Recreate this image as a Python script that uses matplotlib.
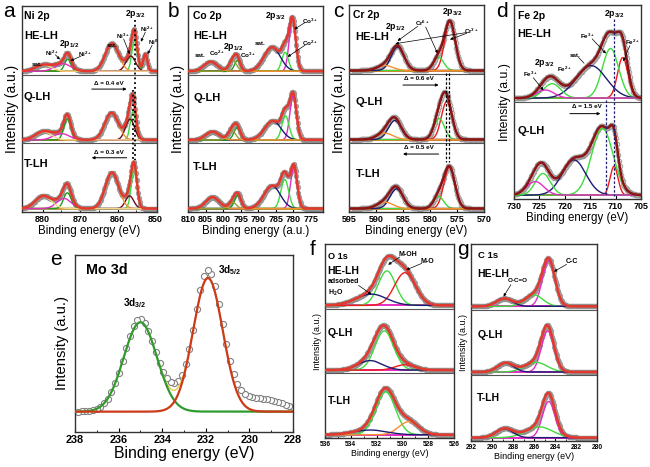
import numpy as np
import matplotlib
matplotlib.use("Agg")
import matplotlib.pyplot as plt

plt.rcParams['font.family'] = ['Liberation Sans', 'DejaVu Sans']
plt.rcParams['font.weight'] = 'bold'
plt.rcParams['mathtext.fontset'] = 'custom'
plt.rcParams['mathtext.rm'] = 'Liberation Sans:bold'
plt.rcParams['mathtext.bf'] = 'Liberation Sans:bold'
plt.rcParams['mathtext.it'] = 'Liberation Sans:bold'
plt.rcParams['mathtext.default'] = 'bf'

# ------------------------------------------------------------------ data
rows3 = ["HE-LH", "Q-LH", "T-LH"]
rows2 = ["HE-LH", "Q-LH"]

# Ni 2p: Ni0, Ni2+ 2p3/2, Ni3+ 2p3/2, sat, Ni2+ 2p1/2, Ni3+ 2p1/2, sat
ni_center = [[852.6, 855.5, 856.5, 861.5, 873.3, 874.6, 879.8],
             [852.6, 855.9, 856.7, 861.6, 873.4, 875.0, 879.8],
             [852.6, 855.6, 856.8, 861.5, 873.4, 874.3, 879.8]]
ni_height = [[0.27, 0.48, 0.24, 0.44, 0.19, 0.12, 0.10],
             [0.00, 0.45, 0.33, 0.43, 0.33, 0.10, 0.13],
             [0.00, 0.62, 0.20, 0.57, 0.25, 0.16, 0.20]]
ni_fwhm = [[1.3, 1.7, 3.0, 4.2, 2.0, 5.0, 5.0],
           [1.3, 1.7, 2.8, 4.2, 2.2, 5.0, 5.0],
           [1.3, 1.8, 2.6, 4.2, 2.4, 4.5, 5.0]]

# Co 2p: Co3+ 2p3/2, Co2+ 2p3/2, sat, Co3+ 2p1/2, Co2+ 2p1/2, sat
co_center = [[780.2, 782.3, 786.0, 795.9, 797.2, 803.5],
             [780.0, 782.2, 785.8, 796.0, 797.5, 803.0],
             [779.8, 782.4, 786.0, 795.8, 797.3, 803.0]]
co_height = [[0.82, 0.30, 0.38, 0.17, 0.17, 0.15],
             [0.70, 0.38, 0.30, 0.19, 0.15, 0.13],
             [0.66, 0.46, 0.36, 0.21, 0.10, 0.18]]
co_fwhm = [[2.2, 2.2, 5.5, 2.0, 2.5, 4.5],
           [2.2, 2.4, 5.5, 2.2, 2.5, 4.5],
           [2.2, 2.6, 5.5, 2.2, 2.5, 4.5]]

# Cr 2p: Cr3+ 2p3/2, Cr6+ 2p3/2, 2p1/2, sat
cr_center = [[576.3, 578.4, 586.0, 588.3],
             [576.9, 578.3, 586.5, 588.3],
             [576.4, 578.4, 586.2, 588.3]]
cr_height = [[0.77, 0.21, 0.37, 0.08],
             [0.60, 0.33, 0.30, 0.10],
             [0.65, 0.19, 0.31, 0.10]]
cr_fwhm = [[2.3, 2.2, 2.8, 3.5],
           [2.3, 2.3, 2.8, 3.5],
           [2.4, 2.2, 2.8, 3.5]]

# Fe 2p: Fe2+ 2p3/2, Fe3+ 2p3/2, sat, Fe2+ 2p1/2, Fe3+ 2p1/2
fe_center = [[708.6, 711.0, 714.8, 722.5, 723.8],
             [710.3, 712.6, 718.2, 724.3, 725.8]]
fe_height = [[0.45, 0.55, 0.36, 0.16, 0.09],
             [0.32, 0.74, 0.39, 0.24, 0.15]]
fe_fwhm = [[2.4, 3.8, 7.0, 4.0, 4.0],
           [1.8, 5.0, 5.5, 3.5, 4.0]]

# Mo 3d: 3d5/2, 3d3/2 (fit) and extra features seen in the measured points
mo_center = [231.9, 235.0]
mo_height = [0.755, 0.505]
mo_fwhm = [1.6, 1.8]
mo_background = 0.115
mo_extra_center = [229.6, 233.5, 231.9, 235.1]
mo_extra_height = [0.075, 0.04, 0.035, 0.02]
mo_extra_fwhm = [2.6, 0.9, 0.8, 0.8]

# O 1s: M-OH, M-O, adsorbed H2O
o_center = [[531.2, 529.8, 532.4],
            [531.4, 529.8, 532.5],
            [531.3, 529.5, 532.5]]
o_height = [[0.58, 0.55, 0.19],
            [0.66, 0.09, 0.16],
            [0.72, 0.22, 0.08]]
o_fwhm = [[1.6, 1.9, 2.8],
          [1.7, 1.8, 2.2],
          [1.8, 1.8, 3.0]]

# C 1s: C-C, C-O, O-C=O
c_center = [[284.6, 286.0, 288.8],
            [284.7, 285.8, 288.7],
            [284.6, 285.5, 288.8]]
c_height = [[0.75, 0.19, 0.13],
            [0.68, 0.16, 0.15],
            [0.60, 0.18, 0.15]]
c_fwhm = [[1.4, 2.0, 1.8],
          [1.4, 2.5, 1.8],
          [1.4, 3.0, 1.9]]

# ------------------------------------------------------------------ styles
W, H = 650, 467
fig = plt.figure(figsize=(6.5, 4.67), dpi=100)


def add_ax(l, t, r, b):
    return fig.add_axes([l / W, 1 - b / H, (r - l) / W, (b - t) / H])


def gauss(x, c, h, w):
    return h * np.exp(-4 * np.log(2) * ((x - c) / w) ** 2)


FILLED = dict(ms=3.4, mfc='#a9a9a9', mec='#8a8a8a', mew=0.4)
HOLLOW = dict(ms=3.4, mfc='#e4e4e4', mec='#8a8a8a', mew=0.5)


def stack(ax, xlim, centers, heights, widths, colors, env_color, pts,
          bg_color='#f2d88a', env_lw=1.8, step=0.2, base=0.05):
    n = len(centers)
    lo, hi = min(xlim), max(xlim)
    x = np.linspace(lo, hi, 800)
    xp = np.arange(lo, hi + 1e-9, step)
    for r in range(n):
        off = n - 1 - r
        b = off + base
        s = 0.97 - base
        tot = np.zeros_like(x)
        totp = np.zeros_like(xp)
        cols = colors[r] if isinstance(colors[0], list) else colors
        for c, h, w, col in zip(centers[r], heights[r], widths[r], cols):
            if h <= 0:
                continue
            tot += gauss(x, c, h, w)
            totp += gauss(xp, c, h, w)
        ax.plot(xp, b + s * totp, ls='none', marker='o', zorder=2, **pts)
        ax.plot([lo, hi], [b, b], color=bg_color, lw=1.4, zorder=2.5)
        for c, h, w, col in zip(centers[r], heights[r], widths[r], cols):
            if h <= 0:
                continue
            ax.plot(x, b + s * gauss(x, c, h, w), color=col, lw=1.0, zorder=3)
        ax.plot(x, b + s * tot, color=env_color, lw=env_lw, zorder=4)
    for k in range(1, n):
        ax.axhline(k, color='#555555', lw=0.8, zorder=5)
    ax.set_xlim(xlim)
    ax.set_ylim(0, n)
    ax.set_yticks([])


def style(ax, ticks, minor, fs, xlabel, xfs, yfs, ylpad=2):
    ax.set_xticks(ticks)
    ax.set_xticks(minor, minor=True)
    ax.tick_params(axis='x', which='major', direction='in', length=3,
                   width=0.8, labelsize=fs, pad=2)
    ax.tick_params(axis='x', which='minor', direction='in', length=1.8,
                   width=0.6)
    for sp in ax.spines.values():
        sp.set_color('#333333')
        sp.set_linewidth(1.0)
    ax.set_xlabel(xlabel, fontsize=xfs, labelpad=1)
    ax.set_ylabel('Intensity (a.u.)', fontsize=yfs, labelpad=ylpad)


def arrow(ax, xy, xytext, lw=0.5, head=True):
    ax.annotate('', xy=xy, xytext=xytext,
                arrowprops=dict(arrowstyle='-|>' if head else '-', lw=lw,
                                color='k', mutation_scale=4,
                                shrinkA=0, shrinkB=0), zorder=6)


def lab(ax, x, y, s, fs=4.5, ha='center', va='center'):
    ax.text(x, y, s, fontsize=fs, ha=ha, va=va, zorder=7)


GREEN = '#3ddc3d'
DKGREEN = '#1f9a1f'
DKRED = '#6e0a1c'
MAGENTA = '#e22ec4'
ORANGE = '#f29030'
NAVY = '#1c1c70'
RED = '#ee1c1c'
YEL = '#f2d88a'
ENV = '#e4382c'
ENV_DK = '#8c1414'

# ------------------------------------------------------------------ a  Ni 2p
ax = add_ax(22, 6, 157, 212)
stack(ax, (885.5, 849.5), ni_center, ni_height, ni_fwhm,
      [DKGREEN, GREEN, DKRED, ORANGE, DKGREEN, MAGENTA, YEL], ENV, FILLED)
style(ax, [880, 870, 860, 850], [875, 865, 855], 6.5,
      'Binding energy (eV)', 8.3, 10)
lab(ax, 885, 2.86, 'Ni 2p', 7.5, ha='left')
lab(ax, 885, 2.57, 'HE-LH', 8, ha='left')
lab(ax, 885, 1.68, 'Q-LH', 8, ha='left')
lab(ax, 885, 0.70, 'T-LH', 8, ha='left')
lab(ax, 881.6, 2.15, 'sat.')
lab(ax, 877.6, 2.31, 'Ni$^{2+}$')
lab(ax, 873.0, 2.44, '2p$_{1/2}$', 6.3)
lab(ax, 868.8, 2.29, 'Ni$^{2+}$')
lab(ax, 861.4, 2.42, 'sat.')
lab(ax, 858.6, 2.56, 'Ni$^{3+}$')
lab(ax, 855.3, 2.89, '2p$_{3/2}$', 6.3)
lab(ax, 852.3, 2.66, 'Ni$^{2+}$')
lab(ax, 850.5, 2.47, 'Ni$^{0}$')
arrow(ax, (875.4, 2.22), (876.6, 2.29))
arrow(ax, (872.6, 2.20), (869.8, 2.27))
arrow(ax, (856.8, 2.30), (858.4, 2.52))
arrow(ax, (853.8, 2.48), (852.6, 2.62))
arrow(ax, (852.0, 2.30), (850.8, 2.43))
lab(ax, 862.3, 1.87, 'Δ = 0.4 eV')
arrow(ax, (857.6, 1.79), (866.9, 1.79), lw=0.7)
lab(ax, 862.3, 0.87, 'Δ = 0.3 eV')
arrow(ax, (866.9, 0.79), (857.6, 0.79), lw=0.7)
ax.plot([855.5, 855.5], [2.79, 0.76], ls=':', lw=1.3, color='k', zorder=6)
ax.plot([855.9, 855.9], [1.78, 0.76], ls=':', lw=1.3, color='k', zorder=6)

# ------------------------------------------------------------------ b  Co 2p
ax = add_ax(188, 6, 323, 212)
stack(ax, (810, 771.5), co_center, co_height, co_fwhm,
      [MAGENTA, GREEN, NAVY, DKGREEN, '#9a9a30', ORANGE], ENV, FILLED,
      bg_color=ORANGE)
style(ax, [810, 805, 800, 795, 790, 785, 780, 775], [], 6.5,
      'Binding energy (a.u.)', 8.3, 10)
lab(ax, 808.5, 2.86, 'Co 2p', 7.5, ha='left')
lab(ax, 808.5, 2.56, 'HE-LH', 8, ha='left')
lab(ax, 808.5, 1.66, 'Q-LH', 8, ha='left')
lab(ax, 808.5, 0.66, 'T-LH', 8, ha='left')
lab(ax, 806.6, 2.28, 'sat.')
lab(ax, 801.7, 2.31, 'Co$^{2+}$')
lab(ax, 797.0, 2.41, '2p$_{1/2}$', 6.3)
lab(ax, 792.8, 2.28, 'Co$^{3+}$')
lab(ax, 789.5, 2.46, 'sat.')
lab(ax, 785.0, 2.86, '2p$_{3/2}$', 6.3)
lab(ax, 775.2, 2.78, 'Co$^{3+}$')
lab(ax, 775.2, 2.45, 'Co$^{2+}$')
arrow(ax, (779.7, 2.66), (776.6, 2.76))
arrow(ax, (781.6, 2.26), (776.6, 2.43))

# ------------------------------------------------------------------ c  Cr 2p
ax = add_ax(349, 5, 484, 212)
stack(ax, (595, 570), cr_center, cr_height, cr_fwhm,
      [RED, GREEN, NAVY, ORANGE], ENV_DK, HOLLOW, bg_color=ORANGE,
      step=0.15)
style(ax, [595, 590, 585, 580, 575, 570], [], 6.5,
      'Binding energy (eV)', 8.3, 10)
lab(ax, 594.3, 2.86, 'Cr 2p', 7.5, ha='left')
lab(ax, 593.8, 2.53, 'HE-LH', 8, ha='left')
lab(ax, 593.8, 1.60, 'Q-LH', 8, ha='left')
lab(ax, 593.8, 0.55, 'T-LH', 8, ha='left')
lab(ax, 586.5, 2.68, '2p$_{1/2}$', 6.3)
lab(ax, 575.8, 2.90, '2p$_{3/2}$', 6.3)
lab(ax, 581.4, 2.73, 'Cr$^{6+}$')
lab(ax, 572.4, 2.62, 'Cr$^{3+}$')
arrow(ax, (586.0, 2.48), (582.3, 2.69))
arrow(ax, (578.6, 2.30), (580.8, 2.68))
arrow(ax, (576.3, 2.50), (573.2, 2.59))
arrow(ax, (586.4, 2.44), (573.3, 2.60))
lab(ax, 582.0, 1.93, 'Δ = 0.6 eV')
arrow(ax, (578.4, 1.84), (585.0, 1.84), lw=0.7)
lab(ax, 582.0, 0.93, 'Δ = 0.5 eV')
arrow(ax, (585.0, 0.84), (578.4, 0.84), lw=0.7)
ax.plot([577.1, 577.1], [2.02, 0.72], ls=(0, (2, 1.5)), lw=0.9, color='k', zorder=6)
ax.plot([576.4, 576.4], [2.02, 0.72], ls=(0, (2, 1.5)), lw=0.9, color='k', zorder=6)

# ------------------------------------------------------------------ d  Fe 2p
ax = add_ax(514, 5, 641, 199)
stack(ax, (730, 705), fe_center, fe_height, fe_fwhm,
      [RED, GREEN, NAVY, GREEN, MAGENTA], ENV_DK, HOLLOW, bg_color=MAGENTA,
      step=0.15, base=0.04)
style(ax, [730, 725, 720, 715, 710, 705], [], 6.5,
      'Binding energy (eV)', 8.3, 8.8)
lab(ax, 729.3, 1.89, 'Fe 2p', 7.5, ha='left')
lab(ax, 729.3, 1.70, 'HE-LH', 8, ha='left')
lab(ax, 729.3, 0.70, 'Q-LH', 8, ha='left')
lab(ax, 710.3, 1.91, '2p$_{3/2}$', 6.3)
lab(ax, 715.6, 1.68, 'Fe$^{3+}$')
lab(ax, 706.6, 1.62, 'Fe$^{2+}$')
lab(ax, 717.9, 1.48, 'sat.')
lab(ax, 724.0, 1.40, '2p$_{3/2}$', 6.3)
lab(ax, 720.0, 1.34, 'Fe$^{2+}$')
lab(ax, 726.8, 1.29, 'Fe$^{3+}$')
arrow(ax, (711.9, 1.50), (714.6, 1.65))
arrow(ax, (708.5, 1.42), (707.2, 1.58))
arrow(ax, (716.2, 1.40), (717.3, 1.46), head=False)
arrow(ax, (724.2, 1.12), (726.2, 1.25))
lab(ax, 715.6, 0.95, 'Δ = 1.5 eV')
arrow(ax, (713.0, 0.88), (719.0, 0.88), lw=0.7)
ax.plot([710.3, 710.3], [1.86, 0.03], ls=(0, (2, 1.5)), lw=0.9, color='#1c1c70', zorder=6)
ax.plot([711.8, 711.8], [1.02, 0.03], ls=(0, (2, 1.5)), lw=0.9, color='#1c1c70', zorder=6)

# ------------------------------------------------------------------ e  Mo 3d
ax = add_ax(75, 255, 293, 432)
xe = np.linspace(228, 238, 600)
xep = np.arange(228, 238.001, 0.17)
fit = [gauss(xe, c, h, w) for c, h, w in zip(mo_center, mo_height, mo_fwhm)]
datp = mo_background + sum(gauss(xep, c, h, w) for c, h, w in
                           zip(mo_center + mo_extra_center,
                               mo_height + mo_extra_height,
                               mo_fwhm + mo_extra_fwhm))
ax.plot(xep, datp, ls='none', marker='o', ms=4.4, mfc='white', mec='#808080',
        mew=0.8, zorder=2)
ax.plot(xe, mo_background + fit[0] + fit[1], color='#e8cc50', lw=1.0, zorder=3)
ax.plot(xe, mo_background + fit[1], color='#2f9a2f', lw=1.6, zorder=4)
ax.plot(xe, mo_background + fit[0], color='#cc3a1a', lw=1.6, zorder=4)
ax.set_xlim(238, 228)
ax.set_ylim(0, 1)
ax.set_yticks([])
style(ax, [238, 236, 234, 232, 230, 228], [237, 235, 233, 231, 229], 7.8,
      'Binding energy (eV)', 11.4, 10.6, ylpad=4)
lab(ax, 237.5, 0.915, 'Mo 3d', 10.4, ha='left')
lab(ax, 235.25, 0.73, '3d$_{3/2}$', 7.2)
lab(ax, 230.9, 0.915, '3d$_{5/2}$', 7.2)

# ------------------------------------------------------------------ f  O 1s
ax = add_ax(325, 244, 454, 438)
stack(ax, (536, 526), o_center, o_height, o_fwhm,
      [[GREEN, RED, NAVY], [GREEN, RED, NAVY], [GREEN, ORANGE, NAVY]],
      ENV, FILLED, bg_color=MAGENTA, step=0.06)
style(ax, [536, 534, 532, 530, 528, 526], [535, 533, 531, 529, 527], 4.8,
      'Binding energy (eV)', 6.3, 6.4, ylpad=2)
lab(ax, 535.8, 2.80, 'O 1s', 6.6, ha='left')
lab(ax, 535.8, 2.59, 'HE-LH', 7.5, ha='left')
lab(ax, 535.8, 2.42, 'adsorbed', 5, ha='left')
lab(ax, 535.8, 2.25, 'H$_2$O', 5, ha='left')
lab(ax, 529.6, 2.84, 'M-OH', 5)
lab(ax, 528.1, 2.73, 'M-O', 5)
arrow(ax, (532.4, 2.22), (533.4, 2.36))
arrow(ax, (531.1, 2.68), (530.2, 2.80))
arrow(ax, (529.7, 2.60), (528.5, 2.70))
lab(ax, 535.8, 1.63, 'Q-LH', 7.5, ha='left')
lab(ax, 535.8, 0.57, 'T-LH', 7.5, ha='left')

# ------------------------------------------------------------------ g  C 1s
ax = add_ax(471, 244, 597, 441)
stack(ax, (292, 280), c_center, c_height, c_fwhm,
      [MAGENTA, GREEN, NAVY], ENV, FILLED, bg_color=MAGENTA, step=0.07)
style(ax, [292, 290, 288, 286, 284, 282, 280], [291, 289, 287, 285, 283, 281],
      4.8, 'Binding energy (eV)', 6.5, 6.4, ylpad=2)
lab(ax, 291.3, 2.82, 'C 1s', 6.8, ha='left')
lab(ax, 291.4, 2.55, 'HE-LH', 7.5, ha='left')
lab(ax, 287.5, 2.44, 'O-C=O', 4.5)
lab(ax, 282.4, 2.74, 'C-C', 5)
arrow(ax, (288.9, 2.20), (288.2, 2.38))
arrow(ax, (284.1, 2.58), (282.9, 2.69))
lab(ax, 291.4, 1.62, 'Q-LH', 7.5, ha='left')
lab(ax, 291.4, 0.65, 'T-LH', 7.5, ha='left')

# ------------------------------------------------------------------ panel letters
for s, x, y, fs in [('a', 3, 2, 15), ('b', 168, 2, 15), ('c', 333, 2, 15),
                    ('d', 496, 2, 15), ('e', 50, 250, 15), ('f', 310, 240, 15),
                    ('g', 457, 240, 15)]:
    fig.text(x / W, 1 - y / H, s, fontsize=fs, fontweight='normal',
             ha='left', va='top')

fig.savefig('out.png', dpi=100)
